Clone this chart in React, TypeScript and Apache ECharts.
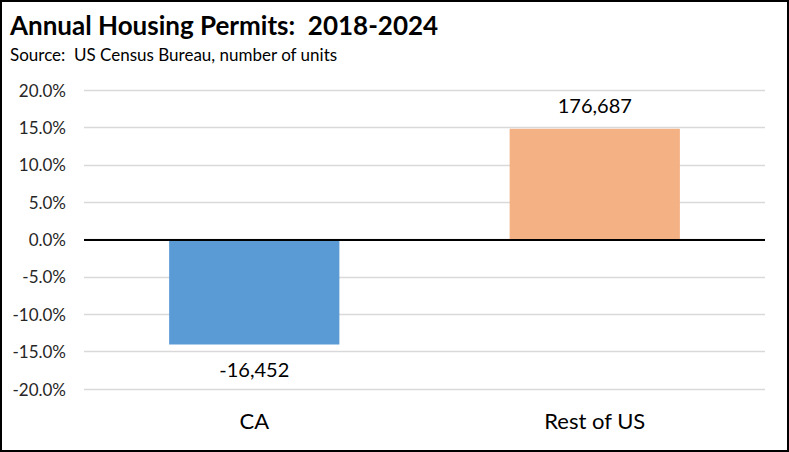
import React, { useEffect, useRef } from "react";
import * as echarts from "echarts";

const categories = ["CA", "Rest of US"];
const pctChange = [-14.05, 14.82];
const unitChange = [-16452, 176687];
const barColors = ["#5B9BD5", "#F4B183"];
const labelPositions = ["bottom", "top"];

const FONT = "Lato, 'Open Sans', sans-serif";

export default function App() {
  const ref = useRef<HTMLDivElement>(null);
  useEffect(() => {
    if (!ref.current) return;
    const chart = echarts.init(ref.current, undefined, { renderer: "svg" });
    chart.setOption({
      animation: false,
      backgroundColor: "#fff",
      title: [
        {
          text: "Annual Housing Permits:  2018-2024",
          left: 5,
          top: 7,
          textStyle: { fontFamily: FONT, fontWeight: "bold", fontSize: 26, color: "#000" },
        },
        {
          text: "Source:  US Census Bureau, number of units",
          left: 5,
          top: 41,
          textStyle: { fontFamily: FONT, fontWeight: "normal", fontSize: 17, color: "#000" },
        },
      ],
      graphic: [
        {
          type: "rect",
          shape: { x: 1, y: 1, width: 787, height: 450 },
          style: { fill: "none", stroke: "#000", lineWidth: 2 },
          silent: true,
        },
      ],
      grid: { left: 84, right: 24, top: 90, bottom: 63 },
      xAxis: {
        type: "category",
        data: categories,
        axisLine: { show: false },
        axisTick: { show: false },
        axisLabel: { fontFamily: FONT, fontSize: 22, color: "#000", margin: 20 },
      },
      yAxis: {
        type: "value",
        min: -20,
        max: 20,
        interval: 5,
        axisLine: { show: false },
        axisTick: { show: false },
        axisLabel: {
          fontFamily: FONT,
          fontSize: 17,
          color: "#262626",
          margin: 18,
          formatter: (v: number) => v.toFixed(1) + "%",
        },
        splitLine: { lineStyle: { color: "#d9d9d9", width: 1.3 } },
      },
      series: [
        {
          type: "bar",
          barWidth: "50%",
          data: pctChange.map((v, i) => ({
            value: v,
            itemStyle: { color: barColors[i] },
            label: {
              show: true,
              position: labelPositions[i],
              distance: 14,
              fontFamily: FONT,
              fontSize: 20,
              color: "#000",
              formatter: () => unitChange[i].toLocaleString("en-US"),
            },
          })),
          markLine: {
            silent: true,
            symbol: "none",
            label: { show: false },
            lineStyle: { color: "#000", width: 2, type: "solid" },
            data: [{ yAxis: 0 }],
          },
        },
      ],
    });
    return () => chart.dispose();
  }, []);
  return (
    <div
      ref={ref}
      style={{ position: "fixed", left: 0, top: 0, width: 789, height: 452 }}
    />
  );
}
